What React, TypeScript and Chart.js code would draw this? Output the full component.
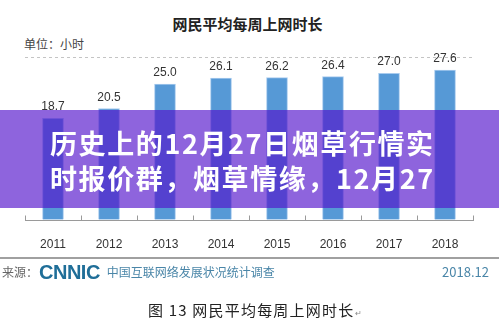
import { useEffect, useRef } from "react";
import { Chart, registerables } from "chart.js";

Chart.register(...registerables);

// Weekly online hours per internet user, by year
const years = ["2011", "2012", "2013", "2014", "2015", "2016", "2017", "2018"];
const hours = [18.7, 20.5, 25.0, 26.1, 26.2, 26.4, 27.0, 27.6];
const yMin = 0;
const yMax = 30;

const chartTitle = "网民平均每周上网时长";
const unitLabel = "单位：小时";
const bannerLines = ["历史上的12月27日烟草行情实", "时报价群，烟草情缘，12月27"];
const sourceLabel = "来源：";
const sourceLogo = "CNNIC";
const sourceOrg = "中国互联网络发展状况统计调查";
const sourceDate = "2018.12";
const figureCaption = "图 13 网民平均每周上网时长";

const W = 499;
const H = 319;
const CJK = "'Noto Sans CJK SC', 'Noto Sans', sans-serif";
const LATIN = "'Liberation Sans', Arial, sans-serif";

// value text above each bar
const valueLabels = {
  id: "valueLabels",
  afterDatasetsDraw(chart: any) {
    const { ctx } = chart;
    const meta = chart.getDatasetMeta(0);
    ctx.save();
    ctx.font = `12px ${LATIN}`;
    ctx.fillStyle = "#333";
    ctx.textAlign = "center";
    ctx.textBaseline = "alphabetic";
    meta.data.forEach((bar: any, i: number) => {
      ctx.fillText(hours[i].toFixed(1), bar.x, bar.y - 8);
    });
    ctx.restore();
  },
};

// short inward tick marks on the category boundaries
const boundaryTicks = {
  id: "boundaryTicks",
  afterDatasetsDraw(chart: any) {
    const { ctx } = chart;
    const xs = chart.scales.x;
    const base = Math.round(chart.chartArea.bottom) + 0.5;
    ctx.save();
    ctx.strokeStyle = "#9a9a9a";
    ctx.lineWidth = 1;
    ctx.beginPath();
    for (let i = 0; i <= years.length; i++) {
      const px = Math.round(xs.getPixelForValue(i - 0.5)) + 0.5;
      ctx.moveTo(px, base);
      ctx.lineTo(px, base - 5);
    }
    ctx.stroke();
    ctx.restore();
  },
};

function BarChart() {
  const ref = useRef<HTMLCanvasElement | null>(null);

  useEffect(() => {
    if (!ref.current) return;
    const chart = new Chart(ref.current, {
      type: "bar",
      data: {
        labels: years,
        datasets: [
          {
            data: hours,
            backgroundColor: "#5699d6",
            borderColor: "#a8cbee",
            borderWidth: 1,
            barThickness: 21,
          },
        ],
      },
      options: {
        responsive: false,
        animation: false,
        layout: { padding: { left: 25, right: 26, top: 57, bottom: 69 } },
        plugins: {
          legend: { display: false },
          tooltip: { enabled: false },
          title: { display: false },
        },
        scales: {
          x: {
            grid: { display: false, drawTicks: false },
            border: { display: true, color: "#9a9a9a", width: 1 },
            ticks: {
              color: "#333",
              padding: 17,
              font: { family: LATIN, size: 12 },
            },
            afterFit(scale: any) {
              scale.height = 30;
            },
          },
          y: {
            min: yMin,
            max: yMax,
            ticks: { display: false, stepSize: 30 },
            border: { display: false, dash: [3, 3] },
            grid: {
              drawTicks: false,
              color: (c: any) => (c.tick && c.tick.value === yMax ? "#c4c4c4" : "rgba(0,0,0,0)"),
              lineWidth: 1,
            },
            afterFit(scale: any) {
              scale.width = 0;
            },
          },
        },
      },
      plugins: [valueLabels, boundaryTicks],
    } as any);
    return () => chart.destroy();
  }, []);

  return (
    <canvas
      ref={ref}
      width={W}
      height={H}
      style={{ position: "absolute", left: 0, top: 0, width: W, height: H }}
    />
  );
}

export default function App() {
  return (
    <div
      style={{
        position: "absolute",
        left: 0,
        top: 0,
        width: W,
        height: H,
        overflow: "hidden",
        background: "#ffffff",
        fontFamily: CJK,
      }}
    >
      <div
        style={{
          position: "absolute",
          left: 0,
          top: 13,
          width: W - 4,
          textAlign: "center",
          fontSize: 15,
          fontWeight: 700,
          color: "#222",
          lineHeight: "22px",
        }}
      >
        {chartTitle}
      </div>
      <div
        style={{
          position: "absolute",
          left: 24,
          top: 36,
          fontSize: 12,
          color: "#444",
          lineHeight: "16px",
        }}
      >
        {unitLabel}
      </div>

      <BarChart />

      <div
        style={{
          position: "absolute",
          left: 0,
          top: 110,
          width: W,
          height: 98,
          background: "rgba(84, 20, 204, 0.66)",
          boxSizing: "border-box",
          paddingTop: 15,
          paddingLeft: 50,
          color: "#ffffff",
          fontSize: 27,
          fontWeight: 700,
          lineHeight: "35px",
          letterSpacing: 1.6,
          whiteSpace: "nowrap",
        }}
      >
        {bannerLines.map((t) => (
          <div key={t}>{t}</div>
        ))}
      </div>

      <div
        style={{
          position: "absolute",
          left: 0,
          top: 257,
          width: W,
          height: 0,
          borderTop: "2px solid #a0a0a0",
        }}
      />
      <div
        style={{
          position: "absolute",
          left: 2,
          top: 263,
          fontSize: 12,
          color: "#666",
          lineHeight: "18px",
          whiteSpace: "nowrap",
          display: "flex",
          alignItems: "center",
        }}
      >
        <span>{sourceLabel}</span>
        <span
          style={{
            fontFamily: LATIN,
            fontWeight: 700,
            fontSize: 20,
            color: "#1f6e98",
            marginLeft: 1,
            letterSpacing: -0.5,
          }}
        >
          {sourceLogo}
        </span>
        <span style={{ color: "#4a86a8", marginLeft: 7 }}>{sourceOrg}</span>
      </div>
      <div
        style={{
          position: "absolute",
          right: 10,
          top: 263,
          fontSize: 13,
          color: "#4a86a8",
          lineHeight: "18px",
        }}
      >
        {sourceDate}
      </div>
      <div
        style={{
          position: "absolute",
          left: 148,
          top: 300,
          fontSize: 15,
          color: "#222",
          lineHeight: "20px",
          letterSpacing: 1.2,
          whiteSpace: "nowrap",
        }}
      >
        {figureCaption}
        <span style={{ fontSize: 8, color: "#888", marginLeft: 1 }}>↵</span>
      </div>
    </div>
  );
}
